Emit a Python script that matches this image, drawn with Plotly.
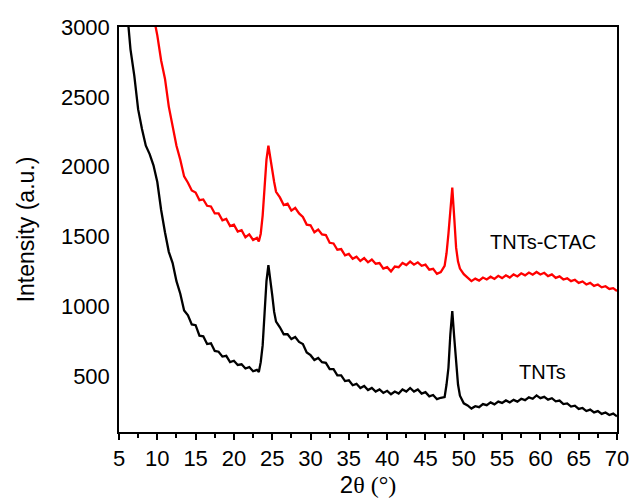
import plotly.graph_objects as go

# ---- data ----
tnts_x = [6.0, 6.5, 7.0, 7.5, 8.0, 8.5, 9.0, 9.5, 10.0, 10.5,
          11.0, 11.5, 12.0, 12.5, 13.0, 13.5, 14.0, 14.5, 15.0, 15.5,
          16.0, 16.5, 17.0, 17.5, 18.0, 18.5, 19.0, 19.5, 20.0, 20.5,
          21.0, 21.5, 22.0, 22.5, 23.0, 23.25, 23.5, 23.75, 24.0, 24.25,
          24.5, 24.75, 25.0, 25.25, 25.5, 26.0, 26.5, 27.0, 27.5, 28.0,
          28.5, 29.0, 29.5, 30.0, 30.5, 31.0, 31.5, 32.0, 32.5, 33.0,
          33.5, 34.0, 34.5, 35.0, 35.5, 36.0, 36.5, 37.0, 37.5, 38.0,
          38.5, 39.0, 39.5, 40.0, 40.5, 41.0, 41.5, 42.0, 42.5, 43.0,
          43.5, 44.0, 44.5, 45.0, 45.5, 46.0, 46.5, 47.0, 47.5, 47.75,
          48.0, 48.25, 48.5, 48.75, 49.0, 49.25, 49.5, 50.0, 50.5, 51.0,
          51.5, 52.0, 52.5, 53.0, 53.5, 54.0, 54.5, 55.0, 55.5, 56.0,
          56.5, 57.0, 57.5, 58.0, 58.5, 59.0, 59.5, 60.0, 60.5, 61.0,
          61.5, 62.0, 62.5, 63.0, 63.5, 64.0, 64.5, 65.0, 65.5, 66.0,
          66.5, 67.0, 67.5, 68.0, 68.5, 69.0, 69.5, 70.0]
tnts_y = [3150, 2840, 2650, 2410, 2270, 2150, 2090, 2010, 1890, 1690,
          1530, 1390, 1310, 1180, 1090, 970, 935, 870, 865, 790,
          785, 730, 735, 680, 675, 640, 645, 600, 610, 580,
          585, 555, 565, 535, 545, 530, 600, 720, 950, 1180,
          1295, 1200, 1080, 960, 890, 850, 800, 800, 765, 780,
          745, 730, 670, 650, 615, 630, 600, 595, 550, 550,
          505, 505, 465, 470, 435, 445, 415, 430, 400, 415,
          390, 405, 380, 395, 370, 390, 375, 405, 390, 415,
          390, 405, 375, 385, 355, 365, 335, 345, 350, 440,
          560, 800, 965, 780, 580, 440, 360, 305, 290, 268,
          285, 278, 300, 292, 312, 298, 318, 308, 326, 312,
          330, 318, 338, 328, 348, 338, 362, 342, 352, 332,
          342, 320, 325, 300, 305, 282, 288, 265, 272, 250,
          260, 240, 250, 230, 240, 222, 232, 212]

ctac_x = [9.5, 10.0, 10.5, 11.0, 11.5, 12.0, 12.5, 13.0, 13.5, 14.0,
          14.5, 15.0, 15.5, 16.0, 16.5, 17.0, 17.5, 18.0, 18.5, 19.0,
          19.5, 20.0, 20.5, 21.0, 21.5, 22.0, 22.5, 23.0, 23.25, 23.5,
          23.75, 24.0, 24.25, 24.5, 24.75, 25.0, 25.25, 25.5, 26.0, 26.5,
          27.0, 27.5, 28.0, 28.5, 29.0, 29.5, 30.0, 30.5, 31.0, 31.5,
          32.0, 32.5, 33.0, 33.5, 34.0, 34.5, 35.0, 35.5, 36.0, 36.5,
          37.0, 37.5, 38.0, 38.5, 39.0, 39.5, 40.0, 40.5, 41.0, 41.5,
          42.0, 42.5, 43.0, 43.5, 44.0, 44.5, 45.0, 45.5, 46.0, 46.5,
          47.0, 47.5, 47.75, 48.0, 48.25, 48.5, 48.75, 49.0, 49.25, 49.5,
          50.0, 50.5, 51.0, 51.5, 52.0, 52.5, 53.0, 53.5, 54.0, 54.5,
          55.0, 55.5, 56.0, 56.5, 57.0, 57.5, 58.0, 58.5, 59.0, 59.5,
          60.0, 60.5, 61.0, 61.5, 62.0, 62.5, 63.0, 63.5, 64.0, 64.5,
          65.0, 65.5, 66.0, 66.5, 67.0, 67.5, 68.0, 68.5, 69.0, 69.5,
          70.0]
ctac_y = [3080, 2940, 2760, 2630, 2430, 2300, 2150, 2050, 1930, 1885,
          1830, 1815, 1760, 1765, 1720, 1715, 1665, 1665, 1615, 1625,
          1575, 1585, 1535, 1545, 1495, 1515, 1475, 1490, 1465, 1520,
          1650, 1850, 2050, 2150, 2060, 1960, 1890, 1820, 1780, 1725,
          1735, 1685, 1705, 1665, 1640, 1585, 1580, 1530, 1550, 1515,
          1510, 1455, 1450, 1405, 1410, 1365, 1375, 1340, 1355, 1325,
          1345, 1315, 1335, 1305, 1310, 1270, 1280, 1250, 1285, 1280,
          1310, 1295, 1320, 1298, 1315, 1290, 1298, 1262, 1268, 1232,
          1245, 1290, 1380, 1520, 1720, 1850, 1640, 1420, 1320, 1270,
          1230, 1205, 1180, 1198, 1184, 1206, 1192, 1212, 1196, 1218,
          1202, 1222, 1206, 1228, 1214, 1236, 1222, 1242, 1226, 1246,
          1228, 1240, 1216, 1228, 1204, 1214, 1192, 1200, 1180, 1190,
          1168, 1178, 1156, 1168, 1146, 1156, 1136, 1144, 1124, 1130,
          1110]

x_ticks = [5, 10, 15, 20, 25, 30, 35, 40, 45, 50, 55, 60, 65, 70]
y_ticks = [500, 1000, 1500, 2000, 2500, 3000]
labels = ["TNTs-CTAC", "TNTs"]
label_x = [60.4, 60.3]
label_y = [1462, 531]

assert len(tnts_x) == len(tnts_y)
assert len(ctac_x) == len(ctac_y)

fig = go.Figure()
fig.add_trace(go.Scatter(x=tnts_x, y=tnts_y, mode="lines",
                         line=dict(color="#000000", width=2.3), name="TNTs"))
fig.add_trace(go.Scatter(x=ctac_x, y=ctac_y, mode="lines",
                         line=dict(color="#ff0000", width=2.3), name="TNTs-CTAC"))

for t, lx, ly in zip(labels, label_x, label_y):
    fig.add_annotation(x=lx, y=ly, text=t, showarrow=False,
                       font=dict(size=20, color="black"))

fig.update_layout(
    template="none",
    width=631, height=498,
    margin=dict(l=119, r=14, t=27, b=66, autoexpand=False),
    plot_bgcolor="white", paper_bgcolor="white",
    showlegend=False,
    font=dict(family="Liberation Sans, Arial, sans-serif", size=22, color="black"),
)
fig.update_xaxes(
    automargin=False,
    range=[5, 70], tickvals=x_ticks, ticks="outside", ticklen=6, tickwidth=1.5,
    tickcolor="black",
    minor=dict(ticks="outside", dtick=2.5, tick0=5, ticklen=4, tickwidth=1.5, tickcolor="black",
               showgrid=False),
    showline=True, linecolor="black", linewidth=1.5, mirror=True,
    showgrid=False, zeroline=False,
    title=dict(text="2<span style='font-family:Liberation Serif'>θ (°)</span>",
               font=dict(size=24), standoff=6),
)
fig.update_yaxes(
    automargin=False,
    range=[100, 3000], tickvals=y_ticks, ticks="",
    showline=True, linecolor="black", linewidth=1.5, mirror=True,
    showgrid=False, zeroline=False, ticklabelstandoff=3,
    title=dict(text="Intensity (a.u.)", font=dict(size=23), standoff=20),
)

fig.write_html("out.html")
